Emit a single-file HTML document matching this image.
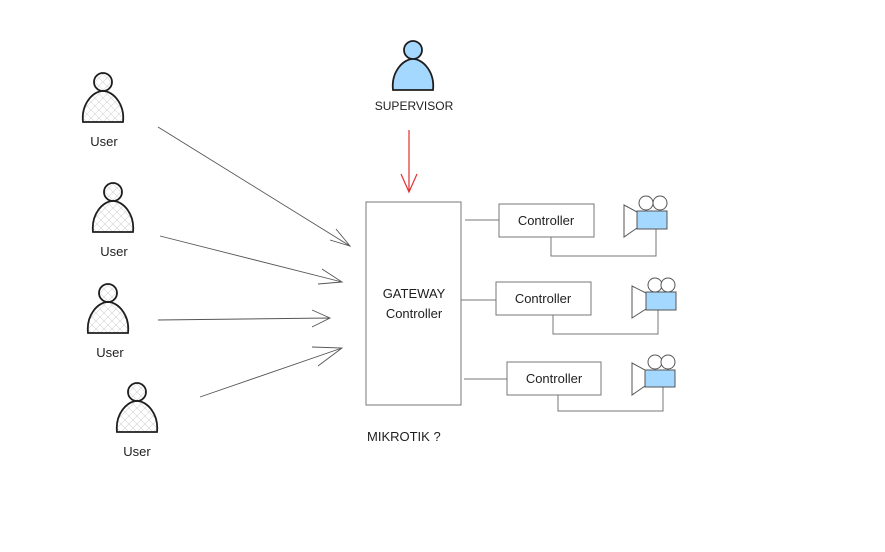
<!DOCTYPE html>
<html><head><meta charset="utf-8"><style>
html,body{margin:0;padding:0;background:#fff;}
svg{display:block;}
text{font-family:"Liberation Sans",sans-serif;font-size:13px;fill:#1e1e1e;}
</style></head><body>
<svg width="885" height="552" viewBox="0 0 885 552" xmlns="http://www.w3.org/2000/svg">
<defs>
<pattern id="h" width="8" height="8" patternUnits="userSpaceOnUse">
<path d="M0 0L8 8M8 0L0 8" stroke="#d4d4d4" stroke-width="0.6"/>
</pattern>
<g id="u">
<circle cx="0" cy="0" r="9" fill="url(#h)" stroke="#1e1e1e" stroke-width="1.8"/>
<path d="M-20 40 C-22 22 -10 9 0 9 C10 9 22 22 20 40 Z" fill="url(#h)" stroke="#1e1e1e" stroke-width="1.8"/>
</g>
</defs>
<use href="#u" x="103" y="82"/>
<use href="#u" x="113" y="192"/>
<use href="#u" x="108" y="293"/>
<use href="#u" x="137" y="392"/>
<text x="104" y="146" text-anchor="middle">User</text>
<text x="114" y="256" text-anchor="middle">User</text>
<text x="110" y="357" text-anchor="middle">User</text>
<text x="137" y="456" text-anchor="middle">User</text>
<circle cx="413" cy="50" r="9" fill="#a5d8ff" stroke="#1e1e1e" stroke-width="1.8"/>
<path d="M393 90 C391 72 403 59 413 59 C423 59 435 72 433 90 Z" fill="#a5d8ff" stroke="#1e1e1e" stroke-width="1.8"/>
<text x="414" y="110" text-anchor="middle" style="font-size:12px">SUPERVISOR</text>
<g stroke="#555" stroke-width="0.9" fill="none">
<path d="M158 127L350 246M330 240L350 246L336 229"/>
<path d="M160 236L342 282M318 284L342 282L322 269"/>
<path d="M158 320L330 318M312 327L330 318L312 310"/>
<path d="M200 397L342 348M318 366L342 348L312 347"/>
</g>
<path d="M409 130L409 192M401 174L409 192L417 174" stroke="#e03131" stroke-width="1.2" fill="none"/>
<g stroke="#777" stroke-width="1" fill="none">
<rect x="366" y="202" width="95" height="203"/>
<rect x="499" y="204" width="95" height="33"/>
<rect x="496" y="282" width="95" height="33"/>
<rect x="507" y="362" width="94" height="33"/>
<path d="M465 220H499M461 300H496M464 379H507"/>
<path d="M551 237V256H656V229M553 315V334H658V310M558 395V411H663V387"/>
</g>
<text x="414" y="298" text-anchor="middle">GATEWAY</text>
<text x="414" y="318" text-anchor="middle">Controller</text>
<text x="546" y="225" text-anchor="middle">Controller</text>
<text x="543" y="303" text-anchor="middle">Controller</text>
<text x="554" y="383" text-anchor="middle">Controller</text>
<text x="367" y="441" style="font-size:13px">MIKROTIK ?</text>
<g stroke="#555" stroke-width="1">
<path d="M624 205L637 212V228L624 237Z" fill="#fff"/>
<rect x="637" y="211" width="30" height="18" fill="#a5d8ff"/>
<circle cx="646" cy="203" r="7" fill="#fff"/><circle cx="660" cy="203" r="7" fill="#fff"/>
<path d="M632 286L646 293V309L632 318Z" fill="#fff"/>
<rect x="646" y="292" width="30" height="18" fill="#a5d8ff"/>
<circle cx="655" cy="285" r="7" fill="#fff"/><circle cx="668" cy="285" r="7" fill="#fff"/>
<path d="M632 363L645 370V386L632 395Z" fill="#fff"/>
<rect x="645" y="370" width="30" height="17" fill="#a5d8ff"/>
<circle cx="655" cy="362" r="7" fill="#fff"/><circle cx="668" cy="362" r="7" fill="#fff"/>
</g>
</svg>
</body></html>
